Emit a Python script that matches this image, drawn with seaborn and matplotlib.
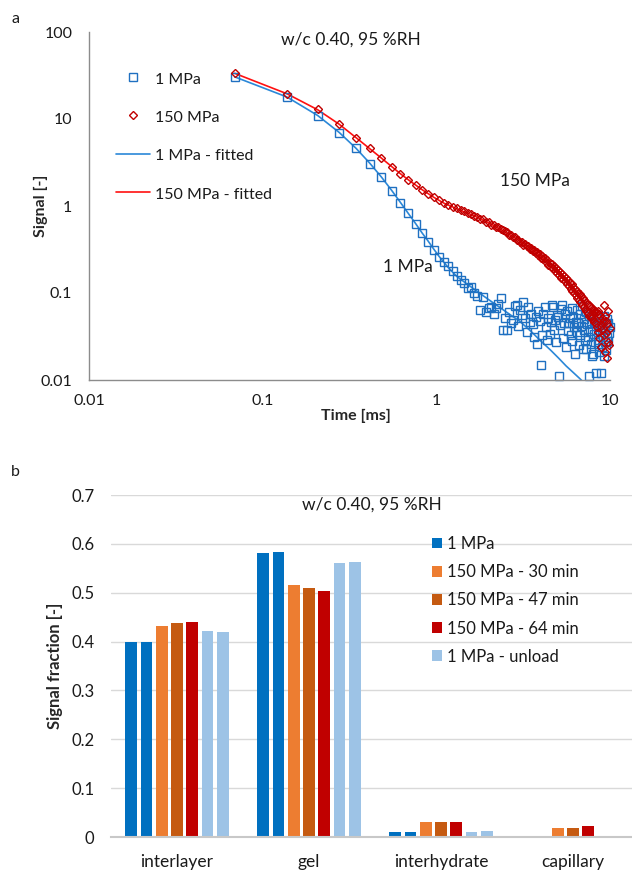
import numpy as np
import pandas as pd
import matplotlib.pyplot as plt
import matplotlib.ticker as mticker
from matplotlib.lines import Line2D
from matplotlib.patches import Patch
import seaborn as sns

# panel a - NMR signal decay, w/c 0.40, 95 %RH
time_ms = [
    0.069, 0.138, 0.207, 0.276, 0.345, 0.414, 0.483, 0.552, 0.621, 0.690, 0.759, 0.828,
    0.897, 0.966, 1.035, 1.104, 1.173, 1.242, 1.311, 1.380, 1.449, 1.518, 1.587, 1.656,
    1.725, 1.794, 1.863, 1.932, 2.001, 2.070, 2.139, 2.208, 2.277, 2.346, 2.415, 2.484,
    2.553, 2.622, 2.691, 2.760, 2.829, 2.898, 2.967, 3.036, 3.105, 3.174, 3.243, 3.312,
    3.381, 3.450, 3.519, 3.588, 3.657, 3.726, 3.795, 3.864, 3.933, 4.002, 4.071, 4.140,
    4.209, 4.278, 4.347, 4.416, 4.485, 4.554, 4.623, 4.692, 4.761, 4.830, 4.899, 4.968,
    5.037, 5.106, 5.175, 5.244, 5.313, 5.382, 5.451, 5.520, 5.589, 5.658, 5.727, 5.796,
    5.865, 5.934, 6.003, 6.072, 6.141, 6.210, 6.279, 6.348, 6.417, 6.486, 6.555, 6.624,
    6.693, 6.762, 6.831, 6.900, 6.969, 7.038, 7.107, 7.176, 7.245, 7.314, 7.383, 7.452,
    7.521, 7.590, 7.659, 7.728, 7.797, 7.866, 7.935, 8.004, 8.073, 8.142, 8.211, 8.280,
    8.349, 8.418, 8.487, 8.556, 8.625, 8.694, 8.763, 8.832, 8.901, 8.970, 9.039, 9.108,
    9.177, 9.246, 9.315, 9.384, 9.453, 9.522, 9.591, 9.660, 9.729, 9.798, 9.867, 9.936,
]

signal_1mpa = [
    30.6, 17.8, 10.9, 6.96, 4.6, 3.04, 2.17, 1.50, 1.09, 0.82, 0.62, 0.485,
    0.389, 0.312, 0.257, 0.225, 0.205, 0.178, 0.155, 0.14, 0.132, 0.113, 0.118, 0.099,
    0.092, 0.064, 0.09, 0.061, 0.067, 0.069, 0.058, 0.067, 0.075, 0.087, 0.038, 0.052,
    0.038, 0.061, 0.045, 0.049, 0.071, 0.073, 0.042, 0.064, 0.056, 0.078, 0.051, 0.036,
    0.069, 0.047, 0.058, 0.044, 0.031, 0.053, 0.026, 0.062, 0.048, 0.015, 0.033, 0.057,
    0.069, 0.041, 0.029, 0.052, 0.034, 0.046, 0.072, 0.069, 0.038, 0.049, 0.027, 0.056,
    0.053, 0.011, 0.043, 0.066, 0.073, 0.030, 0.045, 0.058, 0.024, 0.062, 0.037, 0.045,
    0.051, 0.033, 0.068, 0.028, 0.053, 0.041, 0.020, 0.047, 0.064, 0.036, 0.045, 0.025,
    0.057, 0.033, 0.042, 0.071, 0.023, 0.038, 0.050, 0.029, 0.061, 0.023, 0.044, 0.031,
    0.055, 0.011, 0.037, 0.026, 0.048, 0.019, 0.020, 0.058, 0.034, 0.045, 0.027, 0.038,
    0.012, 0.052, 0.029, 0.026, 0.043, 0.021, 0.036, 0.012, 0.047, 0.041, 0.024, 0.031,
    0.055, 0.019, 0.038, 0.027, 0.045, 0.022, 0.031, 0.050, 0.028, 0.045, 0.035, 0.041,
]

signal_150mpa = [
    33.5, 19.4, 12.9, 8.7, 6.1, 4.6, 3.6, 2.83, 2.33, 1.99, 1.74, 1.53,
    1.38, 1.26, 1.17, 1.09, 1.04, 0.98, 0.95, 0.90, 0.87, 0.83, 0.81, 0.77,
    0.75, 0.71, 0.70, 0.66, 0.65, 0.61, 0.61, 0.58, 0.57, 0.54, 0.53, 0.51,
    0.50, 0.465, 0.47, 0.44, 0.44, 0.41, 0.41, 0.385, 0.39, 0.36, 0.365, 0.345,
    0.35, 0.32, 0.33, 0.30, 0.31, 0.285, 0.295, 0.27, 0.28, 0.255, 0.265, 0.245,
    0.25, 0.225, 0.237, 0.212, 0.222, 0.198, 0.213, 0.192, 0.203, 0.180, 0.192, 0.170,
    0.182, 0.160, 0.173, 0.150, 0.165, 0.144, 0.158, 0.136, 0.148, 0.128, 0.140, 0.121,
    0.132, 0.112, 0.126, 0.106, 0.118, 0.099, 0.112, 0.094, 0.105, 0.088, 0.101, 0.084,
    0.097, 0.078, 0.092, 0.073, 0.087, 0.069, 0.083, 0.066, 0.079, 0.062, 0.075, 0.059,
    0.072, 0.055, 0.070, 0.054, 0.068, 0.051, 0.066, 0.049, 0.064, 0.047, 0.062, 0.045,
    0.060, 0.041, 0.062, 0.036, 0.057, 0.030, 0.055, 0.042, 0.024, 0.051, 0.038, 0.046,
    0.072, 0.033, 0.055, 0.021, 0.048, 0.035, 0.018, 0.044, 0.027, 0.062, 0.025, 0.040,
]

fit_1mpa_time = [0.069, 0.138, 0.207, 0.276, 0.345, 0.414, 0.483, 0.552, 0.621, 0.690,
                 0.759, 0.828, 0.897, 0.966, 1.035, 1.173, 1.311, 1.518, 1.794, 2.070,
                 2.484, 3.036, 3.519, 4.002, 4.554, 5.037, 5.589, 6.141, 6.693, 7.245, 7.797]
fit_1mpa = [30.5, 17.9, 11.0, 7.0, 4.6, 3.1, 2.15, 1.52, 1.10, 0.82,
            0.63, 0.49, 0.395, 0.32, 0.265, 0.195, 0.155, 0.125, 0.098, 0.080,
            0.062, 0.047, 0.036, 0.028, 0.022, 0.018, 0.0145, 0.0122, 0.0104, 0.0089, 0.0077]

fit_150mpa_time = [0.069, 0.138, 0.207, 0.276, 0.345, 0.414, 0.483, 0.552, 0.621, 0.690,
                   0.828, 0.966, 1.104, 1.380, 1.656, 2.001, 2.415, 2.898, 3.450, 4.002,
                   4.692, 5.589, 6.417, 7.314, 8.418, 9.108, 9.936]
fit_150mpa = [33.5, 19.5, 12.8, 8.7, 6.1, 4.55, 3.55, 2.85, 2.35, 2.0,
              1.54, 1.26, 1.08, 0.89, 0.77, 0.64, 0.52, 0.42, 0.33, 0.265,
              0.20, 0.141, 0.099, 0.069, 0.049, 0.040, 0.033]

# panel b - signal fractions per water population
components = ['interlayer', 'gel', 'interhydrate', 'capillary']
series_names = ['1 MPa', '1 MPa (2)', '150 MPa - 30 min', '150 MPa - 47 min',
                '150 MPa - 64 min', '1 MPa - unload', '1 MPa - unload (2)']
frac_1mpa = [0.399, 0.581, 0.011, 0.0]
frac_1mpa_2 = [0.399, 0.584, 0.011, 0.0]
frac_150_30 = [0.432, 0.515, 0.030, 0.019]
frac_150_47 = [0.438, 0.510, 0.030, 0.019]
frac_150_64 = [0.440, 0.504, 0.030, 0.022]
frac_unload = [0.421, 0.560, 0.011, 0.003]
frac_unload_2 = [0.419, 0.562, 0.013, 0.003]
legend_names = ['1 MPa', '150 MPa - 30 min', '150 MPa - 47 min', '150 MPa - 64 min', '1 MPa - unload']

blue_mk, blue_ln = '#1f70c1', '#2b88d8'
red_mk, red_ln = '#c00000', '#ff1010'
bar_colors = ['#0070c0', '#0070c0', '#ed7d31', '#c55a11', '#c00000', '#9dc3e6', '#9dc3e6']
legend_colors = ['#0070c0', '#ed7d31', '#c55a11', '#c00000', '#9dc3e6']
txt = '#1a1a1a'
axis_grey = '#8c8c8c'

sns.set_style('white')
plt.rcParams['font.family'] = ['Lato', 'DejaVu Sans']
plt.rcParams['font.size'] = 11.5
plt.rcParams['text.color'] = txt

W, H = 632, 871
fig = plt.figure(figsize=(W / 100, H / 100), dpi=100)


def px_axes(x0, y0, x1, y1):
    return fig.add_axes([x0 / W, 1 - y1 / H, (x1 - x0) / W, (y1 - y0) / H])


# ---------------- panel a ----------------
ax1 = px_axes(89, 32, 610, 380)
sns.lineplot(x=fit_1mpa_time, y=fit_1mpa, ax=ax1, estimator=None, sort=False,
             color=blue_ln, linewidth=1.2)
sns.lineplot(x=fit_150mpa_time, y=fit_150mpa, ax=ax1, estimator=None, sort=False,
             color=red_ln, linewidth=1.2)
sns.lineplot(x=time_ms, y=signal_1mpa, ax=ax1, estimator=None, sort=False,
             linestyle='none', marker='s', markersize=6.4, markerfacecolor='none',
             markeredgecolor=blue_mk, markeredgewidth=1.0, color=blue_mk, clip_on=False)
sns.lineplot(x=time_ms, y=signal_150mpa, ax=ax1, estimator=None, sort=False,
             linestyle='none', marker='D', markersize=4.4, markerfacecolor='none',
             markeredgecolor=red_mk, markeredgewidth=1.0, color=red_mk, clip_on=False)

ax1.set_xscale('log')
ax1.set_yscale('log')
ax1.set_xlim(0.01, 10)
ax1.set_ylim(0.01, 100)
ax1.xaxis.set_major_locator(mticker.FixedLocator([0.01, 0.1, 1, 10]))
ax1.yaxis.set_major_locator(mticker.FixedLocator([0.01, 0.1, 1, 10, 100]))
ax1.xaxis.set_minor_locator(mticker.NullLocator())
ax1.yaxis.set_minor_locator(mticker.NullLocator())
fmt = mticker.FuncFormatter(lambda v, p: f'{v:g}')
ax1.xaxis.set_major_formatter(fmt)
ax1.yaxis.set_major_formatter(fmt)
for s in ['top', 'right']:
    ax1.spines[s].set_visible(False)
for s in ['left', 'bottom']:
    ax1.spines[s].set_color(axis_grey)
    ax1.spines[s].set_linewidth(1.0)
ax1.tick_params(axis='both', direction='out', length=5, width=1, color=axis_grey,
                labelsize=11.5, labelcolor=txt)
ax1.tick_params(axis='x', pad=5)
ax1.tick_params(axis='y', pad=7)
ax1.set_xlabel('Time [ms]', fontweight='bold', fontsize=11.5, va='center')
ax1.set_ylabel('Signal [-]', fontweight='bold', fontsize=11.5, va='center')
ax1.xaxis.set_label_coords((356 - 89) / 521, -(416 - 380) / 348)
ax1.yaxis.set_label_coords((41 - 89) / 521, 0.5)

ax1.text(3.7, 1.94, '150 MPa', ha='center', va='center', fontsize=12.5)
ax1.text(0.69, 0.2, '1 MPa', ha='center', va='center', fontsize=12.5)
fig.text(351 / W, 1 - 40 / H, 'w/c 0.40, 95 %RH', ha='center', va='center', fontsize=12.5)

handles_a = [
    Line2D([], [], linestyle='none', marker='s', markersize=6.4, markerfacecolor='none',
           markeredgecolor=blue_mk, markeredgewidth=1.0),
    Line2D([], [], linestyle='none', marker='D', markersize=4.4, markerfacecolor='none',
           markeredgecolor=red_mk, markeredgewidth=1.0),
    Line2D([], [], color=blue_ln, linewidth=1.2),
    Line2D([], [], color=red_ln, linewidth=1.2),
]
labels_a = ['1 MPa', '150 MPa', '1 MPa - fitted', '150 MPa - fitted']
fig.legend(handles_a, labels_a, loc='upper left', bbox_to_anchor=(116 / W, 1 - 70 / H),
           frameon=False, fontsize=11.5, handlelength=2.1, handleheight=1.2,
           handletextpad=0.35, labelspacing=1.37, borderpad=0, borderaxespad=0)

# ---------------- panel b ----------------
rows = []
for name, vals in zip(series_names, [frac_1mpa, frac_1mpa_2, frac_150_30, frac_150_47,
                                     frac_150_64, frac_unload, frac_unload_2]):
    for comp, v in zip(components, vals):
        rows.append({'component': comp, 'fraction': v, 'series': name})
df = pd.DataFrame(rows)

ax2 = px_axes(111, 495, 639, 837)
sns.barplot(data=df, x='component', y='fraction', hue='series', hue_order=series_names,
            order=components, palette=dict(zip(series_names, bar_colors)), saturation=1,
            width=0.81, gap=0.24, linewidth=0, legend=False, ax=ax2)
ax2.set_ylim(0, 0.7)
ax2.set_xlim(-0.5, 3.5)
ax2.yaxis.set_major_locator(mticker.FixedLocator([0, 0.1, 0.2, 0.3, 0.4, 0.5, 0.6, 0.7]))
ax2.yaxis.set_major_formatter(fmt)
ax2.yaxis.grid(True, color='#d9d9d9', linewidth=1.0)
ax2.set_axisbelow(True)
for s in ['top', 'right', 'left']:
    ax2.spines[s].set_visible(False)
ax2.spines['bottom'].set_color('#c8c8c8')
ax2.spines['bottom'].set_linewidth(1.5)
ax2.tick_params(axis='both', length=0, labelsize=12, labelcolor=txt)
ax2.tick_params(axis='x', pad=12, labelsize=12.5)
ax2.tick_params(axis='y', pad=12)
ax2.set_xlabel('')
ax2.set_ylabel('Signal fraction [-]', fontweight='bold', fontsize=12, va='center')
ax2.yaxis.set_label_coords((55 - 111) / 528, 0.5)

fig.text(372 / W, 1 - 505 / H, 'w/c 0.40, 95 %RH', ha='center', va='center', fontsize=12.5)

handles_b = [Patch(facecolor=c, edgecolor='none') for c in legend_colors]
fig.legend(handles_b, legend_names, loc='upper left', bbox_to_anchor=(432 / W, 1 - 536 / H),
           frameon=False, fontsize=12, handlelength=0.6, handleheight=0.6,
           handletextpad=0.3, labelspacing=0.73, borderpad=0, borderaxespad=0)

fig.text(15 / W, 1 - 19 / H, 'a', ha='center', va='center', fontsize=11.5)
fig.text(15 / W, 1 - 472 / H, 'b', ha='center', va='center', fontsize=11.5)

fig.savefig('out.png', dpi=100)
